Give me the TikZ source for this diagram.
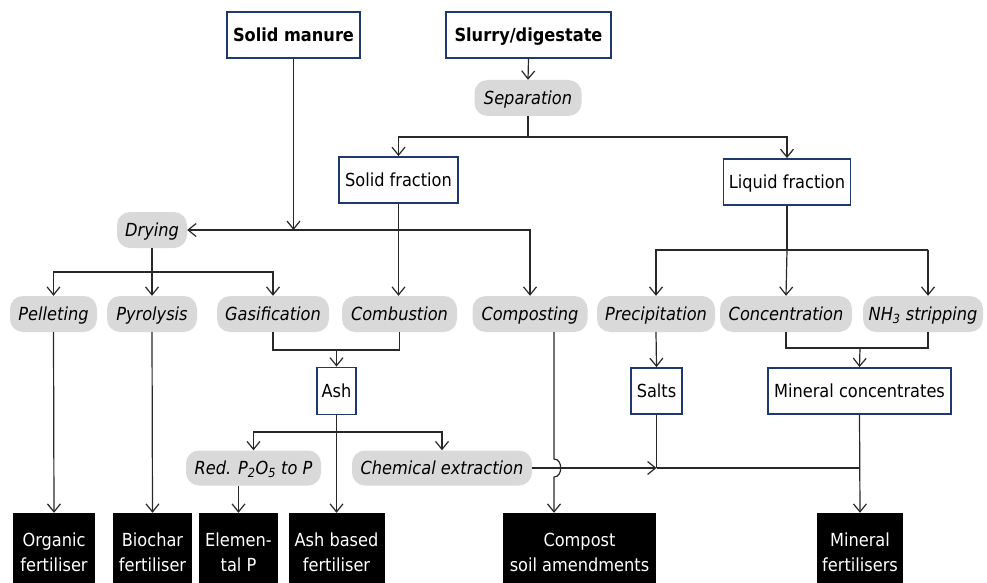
\documentclass[tikz,border=0pt]{standalone}
\usepackage{fontspec}
\setmainfont{DejaVu Sans Condensed}
\usetikzlibrary{arrows.meta}
\definecolor{navy}{RGB}{31,56,110}
\definecolor{pillgrey}{RGB}{217,217,217}
\definecolor{linecol}{RGB}{40,40,40}
\begin{document}
\begin{tikzpicture}[x=1pt,y=-1pt,
  every node/.style={font=\fontsize{18}{25}\selectfont, inner sep=0pt},
  bluebox/.style={draw=navy, line width=1.8pt, fill=white, minimum height=46pt, text height=16pt, text depth=3pt},
  pill/.style={fill=pillgrey, rounded corners=13pt, minimum height=36pt, text height=16pt, text depth=3pt, font=\fontsize{18}{22}\selectfont\itshape},
  blackbox/.style={fill=black, text=white, minimum height=78pt, align=center},
  arr/.style={draw=linecol, -{Straight Barb[length=8pt,width=13pt]}, line width=1.2pt},
  ln/.style={draw=linecol, line width=1.2pt}
]
\useasboundingbox (0,0) rectangle (987,583);

% top boxes
\node[bluebox, minimum width=133pt, font=\fontsize{18}{25}\selectfont\bfseries] (sm) at (293.5,35) {Solid manure};
\node[bluebox, minimum width=165pt, font=\fontsize{18}{25}\selectfont\bfseries] (sd) at (528.5,35) {Slurry/digestate};
\node[pill, minimum width=107pt] (sep) at (528,98) {Separation};
\node[bluebox, minimum width=119pt] (sf) at (398.5,180) {Solid fraction};
\node[bluebox, minimum width=127pt] (lf) at (787,182) {Liquid fraction};
\node[pill, minimum width=70pt] (dry) at (152,230) {Drying};

% process row
\node[pill, minimum width=87pt] (pel) at (53.5,314) {Pelleting};
\node[pill, minimum width=90pt] (pyr) at (152,314) {Pyrolysis};
\node[pill, minimum width=112pt] (gas) at (273,314) {Gasification};
\node[pill, minimum width=115pt] (comb) at (399.5,314) {Combustion};
\node[pill, minimum width=115pt] (comp) at (530,314) {Composting};
\node[pill, minimum width=118pt] (prec) at (656,314) {Precipitation};
\node[pill, minimum width=132pt] (conc) at (786,314) {Concentration};
\node[pill, minimum width=120pt] (nh3) at (923,314) {NH\textsubscript{3} stripping};

% intermediate
\node[bluebox, minimum width=39pt, minimum height=47pt] (ash) at (336.5,391) {Ash};
\node[bluebox, minimum width=51pt] (salts) at (656.5,391) {Salts};
\node[bluebox, minimum width=183pt] (mc) at (859.5,391) {Mineral concentrates};
\node[pill, minimum width=135pt, minimum height=35pt] (red) at (253.5,468) {Red. P\textsubscript{2}O\textsubscript{5} to P};
\node[pill, minimum width=180pt, minimum height=35pt] (chem) at (442,468) {Chemical extraction};

% products
\node[blackbox, minimum width=82pt] (org) at (54,552) {Organic\\fertiliser};
\node[blackbox, minimum width=79pt] (bio) at (152.5,552) {Biochar\\fertiliser};
\node[blackbox, minimum width=79pt] (elem) at (238.5,552) {Elemen-\\tal P};
\node[blackbox, minimum width=96pt] (ashf) at (336.5,552) {Ash based\\fertiliser};
\node[blackbox, minimum width=153pt] (compost) at (579.5,552) {Compost\\soil amendments};
\node[blackbox, minimum width=86pt] (minf) at (860,552) {Mineral\\fertilisers};

% junction coordinates
\coordinate (sepj) at (528,137);
\coordinate (j1) at (398.5,230);
\coordinate (dj) at (152,272);
\coordinate (gj) at (336.5,350);
\coordinate (aj) at (336.5,432);
\coordinate (lj) at (787,250);
\coordinate (nhx) at (928,250);
\coordinate (cj) at (860,348);
\coordinate (cx) at (554,332);
\coordinate (hopa) at (554,459);
\coordinate (hopb) at (554,477);
\coordinate (ej) at (860,468);

% connectors
\draw[arr] (sd.south) -- (sep.north);
\draw[ln] (sep.south) -- (sepj);
\draw[arr] (sepj) -| (sf.north);
\draw[arr] (sepj) -| (lf.north);

\draw[arr] (sm.south) -- (sm.south |- j1);
\draw[arr] (sf.south) -- (sf.south |- comb.north);
\draw[arr] (j1) -- (dry.east);
\draw[arr] (j1) -| (comp.north);

\draw[ln] (dry.south) -- (dj);
\draw[arr] (dj) -| (pel.north);
\draw[arr] (dj) -- (pyr.north);
\draw[arr] (dj) -| (gas.north);

\draw[arr] (pel.south) -- (org.north);
\draw[arr] (pyr.south) -- (bio.north);

\draw[ln] (gas.south) |- (gj) -| (comb.south);
\draw[arr] (gj) -- (ash.north);
\draw[arr] (ash.south) -- (ashf.north);
\draw[arr] (aj) -| (red.north);
\draw[arr] (aj) -| (chem.north);
\draw[arr] (elem.north |- red.south) -- (elem.north);

\draw[arr] (cx) -- (hopa) .. controls ++(9,0) and ++(9,0) .. (hopb) -- (cx |- compost.north);

\draw[arr] (prec.south) -- (salts.north);
\draw[arr] (chem.east) -- (salts.south |- chem.east);
\draw[ln] (salts.south |- chem.east) -- (ej);
\draw[ln] (salts.south) -- (salts.south |- chem.east);

\draw[ln] (lf.south) -- (lj);
\draw[arr] (lj) -| (prec.north);
\draw[arr] (lj) -- (conc.north);
\draw[ln] (lj) -- (nhx);
\draw[arr] (nhx) -- (nhx |- nh3.north);

\draw[ln] (conc.south) |- (cj);
\draw[ln] (cj) -| (nhx |- nh3.south);
\draw[arr] (cj) -- (mc.north);
\draw[arr] (mc.south) -- (minf.north);
\end{tikzpicture}
\end{document}
